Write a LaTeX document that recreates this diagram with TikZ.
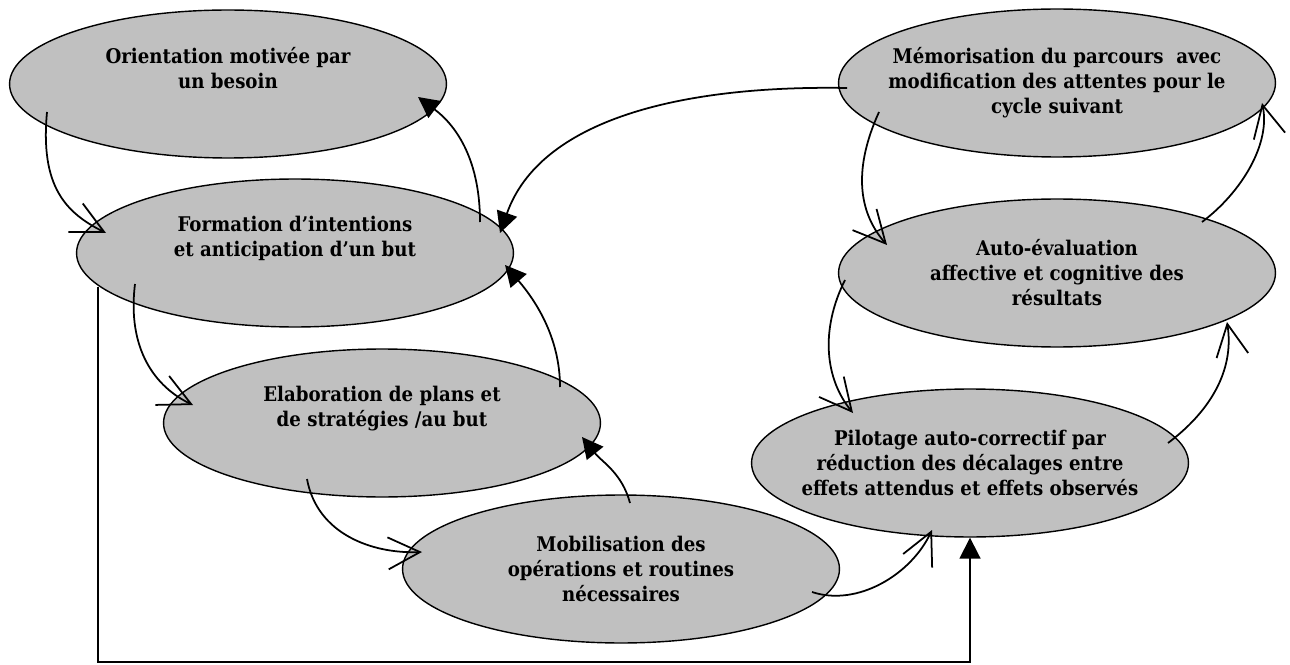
\documentclass[tikz,border=0pt]{standalone}
\usepackage{fontspec}
\IfFontExistsTF{DejaVu Serif Condensed}{\setmainfont{DejaVu Serif Condensed}}{\setmainfont{DejaVu Serif}}
\usepackage{xcolor}
\usetikzlibrary{shapes.geometric, arrows.meta, calc}
\definecolor{shade}{RGB}{192,192,192}

\begin{document}
\begin{tikzpicture}[
    x = 0.02cm, y = -0.02cm,
    E/.style = {ellipse, draw, line width=0.8pt, fill=shade, minimum width=8.74cm, minimum height=2.96cm,
                inner xsep=-3cm, inner ysep=-1.5cm, align=center, font=\fontsize{11.5}{14.2}\selectfont\bfseries},
    A/.style = {line width=1pt, -{Straight Barb[length=0.64cm, width=0.64cm]}},
    F/.style = {line width=1pt, -{Triangle[length=0.42cm, width=0.42cm]}}
    ]
    \useasboundingbox (0,0) rectangle (1290,665);
    \begin{scope}[nodes=E]
        \node (orient) at (228,84) {Orientation motivée par\\un besoin\\\strut};
        \node (formation) at (295,253) {Formation d’intentions\\et anticipation d’un but\\\strut};
        \node (elaboration) at (382,423) {Elaboration de plans et\\de stratégies /au but\\\strut};
        \node (mobilisation) at (621,569) {Mobilisation des\\opérations et routines\\nécessaires};
        \node (memoire) at (1057,83) {Mémorisation du parcours~ avec\\modification des attentes pour le\\cycle suivant};
        \node (autoeval) at (1057,273) {Auto-évaluation\\affective et cognitive des\\résultats};
        \node (pilotage) at (970,463) {Pilotage auto-correctif par\\réduction des décalages entre\\effets attendus et effets observés};
    \end{scope}
    \draw[A] ($(orient.center)+(-181,28)$) .. controls +(-7,75) and +(-40,-20) .. ($(formation.center)+(-189,-20)$);
    \draw[A] ($(formation.center)+(-160,31)$) .. controls +(-8,65) and +(-38,-18) .. ($(elaboration.center)+(-189,-18)$);
    \draw[A] ($(elaboration.center)+(-75,56)$) .. controls +(10,55) and +(-50,2) .. ($(mobilisation.center)+(-199,-17)$);
    \draw[A] ($(mobilisation.center)+(191,23)$) .. controls +(45,15) and +(-21,45) .. ($(pilotage.center)+(-38,67)$);
    \draw[A] ($(pilotage.center)+(198,-20)$) .. controls +(40,-30) and +(8,50) .. ($(autoeval.center)+(170,49)$);
    \draw[A] ($(autoeval.center)+(145,-51)$) .. controls +(40,-30) and +(9,40) .. ($(memoire.center)+(205,20)$);
    \draw[A] ($(memoire.center)+(-178,29)$) .. controls +(-25,55) and +(-30,-34) .. ($(autoeval.center)+(-170,-28)$);
    \draw[A] ($(autoeval.center)+(-212,7)$) .. controls +(-25,50) and +(-28,-34) .. ($(pilotage.center)+(-117,-50)$);
    \draw[F] ($(memoire.center)+(-210,5)$) .. controls +(-167,-3) and +(40,-113) .. ($(formation.center)+(205,-20)$);
    \draw[F] ($(formation.center)+(185,-31)$) .. controls +(0,-60) and +(40,30) .. ($(orient.center)+(190,13)$);
    \draw[F] ($(elaboration.center)+(178,-36)$) .. controls +(0,-50) and +(30,35) .. ($(formation.center)+(210,12)$);
    \draw[F] ($(mobilisation.center)+(9,-66)$) .. controls +(-8,-30) and +(20,25) .. ($(elaboration.center)+(200,14)$);
    \draw[F] ($(formation.center)+(-197,34)$) -- ++(0,375) -| (pilotage.south);
\end{tikzpicture}
\end{document}
